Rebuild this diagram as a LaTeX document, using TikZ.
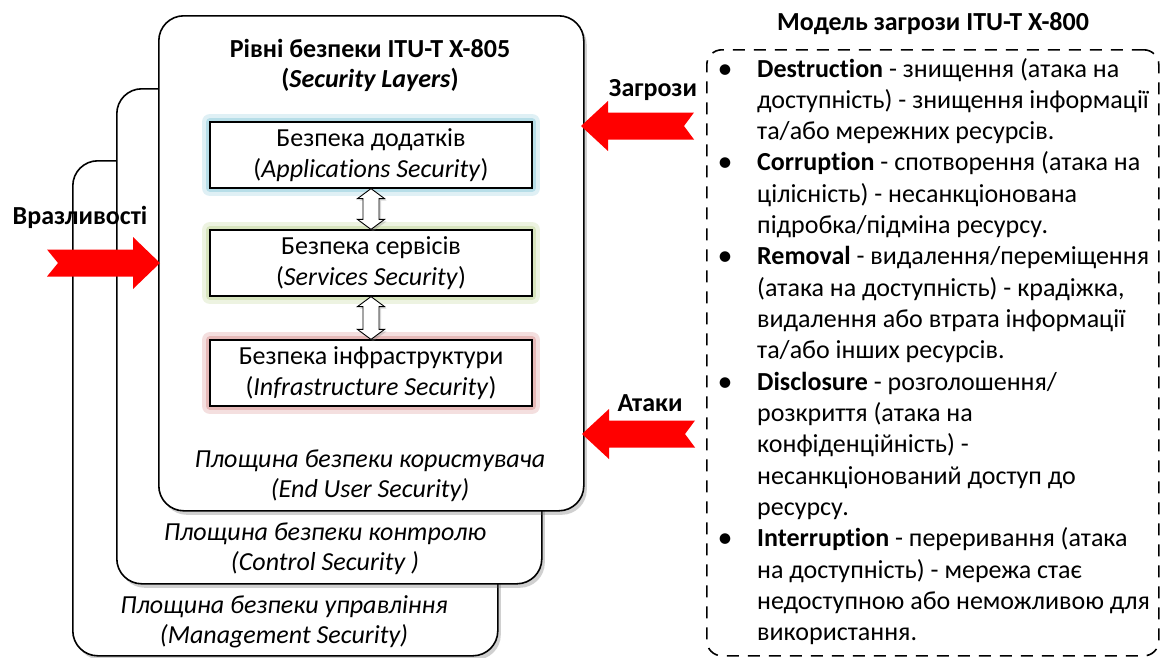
\documentclass[tikz,border=0pt]{standalone}
\usepackage{fontspec}
\setmainfont{Carlito}[Ligatures=CommonOff]
\usetikzlibrary{shadows,calc}
\definecolor{glowblue}{RGB}{75,172,198}
\definecolor{glowgreen}{RGB}{155,187,89}
\definecolor{glowred}{RGB}{192,80,77}
\tikzset{
  txt/.style={font=\fontsize{26}{30}\selectfont, inner sep=0pt, align=center},
  boldtxt/.style={font=\fontsize{26}{30}\selectfont\bfseries, inner sep=0pt, align=center},
  ittxt/.style={font=\fontsize{26}{30}\selectfont\itshape, inner sep=0pt, align=center},
  plane/.style={draw=black, line width=1.6pt, fill=white, rounded corners=25pt,
    minimum width=425pt, minimum height=495pt, anchor=north west, inner sep=0pt,
    drop shadow={shadow xshift=3pt, shadow yshift=-4pt, opacity=0.3, fill=black!60}},
  layerbox/.style={draw=black, line width=1.2pt, fill=white, minimum width=322pt,
    minimum height=66pt, inner sep=0pt, align=center, font=\fontsize{26}{31}\selectfont,
    preaction={draw=#1!18, line width=16pt, line join=round},
    preaction={draw=#1!40, line width=8pt, line join=round}},
  dblarr/.style={draw=black, line width=0.9pt, fill=white, line join=miter,
    drop shadow={shadow xshift=2pt, shadow yshift=-2pt, opacity=0.3}},
  redarrow/.style={fill=red},
  lst/.style={font=\fontsize{26}{31}\selectfont, inner sep=0pt, anchor=base west},
  modelbox/.style={draw=black, line width=1.6pt, dash pattern=on 12pt off 9pt,
    rounded corners=15pt, anchor=north west, inner sep=0pt,
    minimum width=452pt, minimum height=606pt},
}
\begin{document}
\begin{tikzpicture}[x=1pt,y=-1pt]
\useasboundingbox (0,0) rectangle (1161,657);
\fill[white] (0,0) rectangle (1161,657);

% planes
\node[plane] (mgmt) at (72,160) {};
\node[plane] (ctrl) at (116,88) {};
\node[plane] (user) at (158,15) {};

% title
\node[boldtxt] (title) at (370,65) {Рівні безпеки ITU-T X-805\\(\textit{Security Layers})};

% layer boxes
\node[layerbox=glowblue] (app) at (371,155) {Безпека додатків\\(\textit{Applications Security})};
\node[layerbox=glowgreen] (srv) at (371,263) {Безпека сервісів\\(\textit{Services Security})};
\node[layerbox=glowred] (inf) at (371,373) {Безпека інфраструктури\\(\textit{Infrastructure Security})};

% double block arrows between layers
\foreach \a/\b in {app/srv,srv/inf}
  \draw[dblarr] (\a.south) -- ++(13.5,10) -- ++(-5.5,0) -- ($(\b.north)+(8,-10)$)
    -- ++(5.5,0) -- (\b.north) -- ++(-13.5,-10) -- ++(5.5,0)
    -- ($(\a.south)+(-8,10)$) -- ++(-5.5,0) -- cycle;

% plane labels
\node[ittxt] (eu) at (370,476) {Площина безпеки користувача\\(End User Security)};
\node[ittxt] (cs) at (325,549) {Площина безпеки контролю\\(Control Security )};
\node[ittxt] (ms) at (284,622) {Площина безпеки управління\\(Management Security)};

% red arrows
\coordinate (vtip) at (160,263);
\fill[redarrow] (vtip) -- ++(-27,-26) -- ++(0,12.5) -- ++(-86,0) -- ++(11,13.5)
  -- ++(-11,13.5) -- ++(86,0) -- ++(0,12.5) -- cycle;
\node[boldtxt] (vlab) at (80,217) {Вразливості};

\coordinate (ztip) at (581,126);
\fill[redarrow] (ztip) -- ++(27,-25) -- ++(0,11.5) -- ++(86,0) -- ++(-10,13.5)
  -- ++(10,13.5) -- ++(-86,0) -- ++(0,11.5) -- cycle;
\node[boldtxt] (zlab) at (653,90) {Загрози};

\coordinate (atip) at (582,434);
\fill[redarrow] (atip) -- ++(27,-25) -- ++(0,11.5) -- ++(86,0) -- ++(-10,13.5)
  -- ++(10,13.5) -- ++(-86,0) -- ++(0,11.5) -- cycle;
\node[boldtxt] (alab) at (650,403) {Атаки};

% threat model
\node[boldtxt, anchor=base] (mhead) at (933,30) {Модель загрози ITU-T X-800};
\node[modelbox] (model) at (706,49) {};

\foreach \t [count=\i from 0] in {
  {\textbf{Destruction} - знищення (атака на},
  {доступність) - знищення інформації},
  {та/або мережних ресурсів.},
  {\textbf{Corruption} - спотворення (атака на},
  {цілісність) - несанкціонована},
  {підробка/підміна ресурсу.},
  {\textbf{Removal} - видалення/переміщення},
  {(атака на доступність) - крадіжка,},
  {видалення або втрата інформації},
  {та/або інших ресурсів.},
  {\textbf{Disclosure} - розголошення/},
  {розкриття (атака на},
  {конфіденційність) -},
  {несанкціонований доступ до},
  {ресурсу.},
  {\textbf{Interruption} - переривання (атака},
  {на доступність) - мережа стає},
  {недоступною або неможливою для},
  {використання.}}
  \node[lst] (L\i) at (757,{77+31.33*\i}) {\t};

\foreach \k/\n in {0/1,3/2,6/3,10/4,15/5}
  \node[lst, anchor=base, font=\fontsize{30}{31}\selectfont] (b\n) at (725,{78+31.33*\k}) {•};
\end{tikzpicture}
\end{document}
